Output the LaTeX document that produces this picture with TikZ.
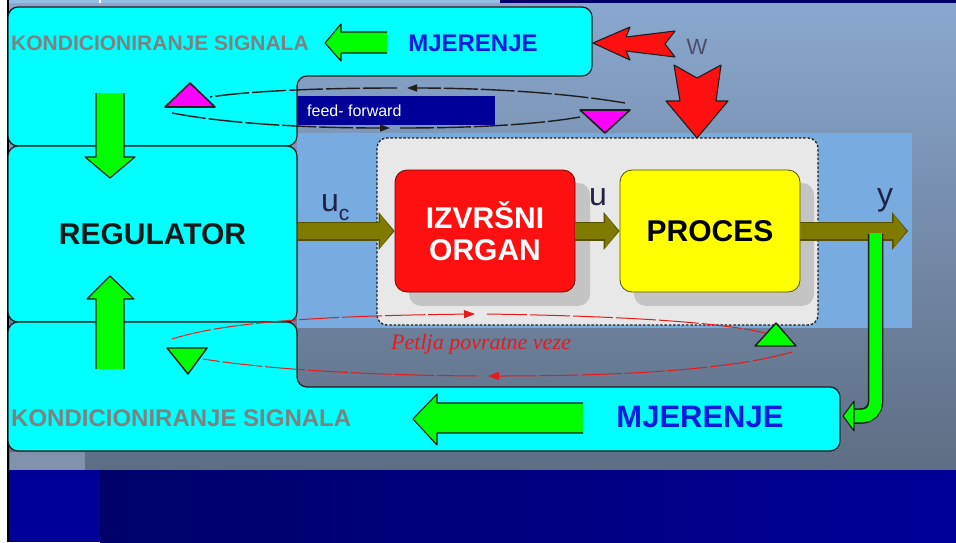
\documentclass[tikz,border=0pt]{standalone}
\usepackage{fontspec}
\setmainfont{Liberation Sans}
\newfontfamily\petljafont{Liberation Serif}
\usetikzlibrary{arrows.meta}
\definecolor{bgtop}{RGB}{138,168,206}
\definecolor{bgbot}{RGB}{94,110,132}
\definecolor{navyA}{RGB}{0,0,152}
\definecolor{navyB}{RGB}{0,0,104}
\definecolor{topstrip}{RGB}{150,190,228}
\definecolor{patchc}{RGB}{128,146,172}
\definecolor{lblue}{RGB}{120,172,224}
\definecolor{panelc}{RGB}{232,232,232}
\definecolor{shadowc}{RGB}{196,196,196}
\definecolor{oliveA}{RGB}{128,122,0}
\definecolor{oliveD}{RGB}{84,80,0}
\definecolor{cyanA}{RGB}{0,255,255}
\definecolor{greenA}{RGB}{0,255,0}
\definecolor{magA}{RGB}{255,0,255}
\definecolor{redA}{RGB}{255,16,16}
\definecolor{yellowA}{RGB}{255,255,0}
\definecolor{textblue}{RGB}{12,28,222}
\definecolor{textgray}{RGB}{128,128,128}
\definecolor{labelc}{RGB}{30,34,70}
\definecolor{ffbox}{RGB}{0,0,153}
\definecolor{edgec}{RGB}{30,30,30}
\definecolor{loopred}{RGB}{226,28,28}
\begin{document}
\begin{tikzpicture}[x=1pt,y=-1pt,
  cyanbox/.style={fill=cyanA, draw=edgec, line width=1.2pt, rounded corners=10pt},
  outl/.style={draw=edgec, line width=1.1pt, line join=round},
  oliveback/.style={line width=19pt, draw=oliveD, -{Triangle[length=16pt,width=37pt]}},
  olivefront/.style={line width=16pt, draw=oliveA, shorten >=1.5pt, -{Triangle[length=13pt,width=33pt]}},
  ffline/.style={draw=edgec, line width=1.4pt, dash pattern=on 34pt off 3pt},
  fbline/.style={draw=loopred, line width=1pt, dash pattern=on 40pt off 3pt},
  bigbold/.style={font=\bfseries\fontsize{30}{32}\selectfont},
  lbl/.style={text=labelc, inner sep=0pt}
]
\useasboundingbox (0,0) rectangle (956,542);
% background
\fill[white] (0,0) rectangle (956,542);
\fill[top color=bgtop, bottom color=bgbot] (8,0) rectangle (956,470);
\fill[topstrip] (8,0) rectangle (500,3);
\fill[white] (99,0) rectangle (101,3);
\fill[navyB] (500,0) rectangle (956,3);
\fill[navyA] (8,470) rectangle (100,542);
\fill[left color=navyB, right color=navyA] (100,470) rectangle (956,542);
\fill[patchc] (10,452) rectangle (85,470);
\draw[line width=1.5pt, black] (8,0) -- (8,542);
% light blue band and process panel
\fill[lblue] (297,133) rectangle (912,328);
\draw[fill=panelc, draw=edgec, line width=1.3pt, dash pattern=on 2.5pt off 1.8pt, rounded corners=10pt] (377,138) rectangle (818,325);
\fill[shadowc, rounded corners=12pt] (409,183) rectangle (590,306);
\fill[shadowc, rounded corners=12pt] (634,183) rectangle (814,306);
\node[draw=red!45!black, fill=redA, line width=0.8pt, rounded corners=12pt, minimum width=180pt, minimum height=122pt, text=white, bigbold, align=center, inner sep=0pt] (org) at (485,231) {IZVRŠNI\\ORGAN};
\node[draw=oliveD, fill=yellowA, line width=0.8pt, rounded corners=12pt, minimum width=180pt, minimum height=122pt, text=black, bigbold, inner sep=0pt] (proc) at (710,231) {PROCES};
% cyan blocks
\draw[cyanbox] (8,146) -- (8,7) -- (592,7) -- (592,76) -- (297,76) -- (297,146) -- cycle;
\node[cyanbox, minimum width=289pt, minimum height=176pt, inner sep=0pt, text=black!90, bigbold] (reg) at (152.5,234) {REGULATOR};
\draw[cyanbox] (8,322) -- (297,322) -- (297,387) -- (840,387) -- (840,451) -- (8,451) -- cycle;
\coordinate (measR) at (841,416);
\coordinate (yend) at (908,231);
\coordinate (ytap) at (875.5,234);
% olive signal arrows
\draw[oliveback] (reg.east |- org.west) -- (org.west);
\draw[olivefront] (reg.east |- org.west) -- (org.west);
\draw[oliveback] (org.east) -- (proc.west);
\draw[olivefront] (org.east) -- (proc.west);
\draw[oliveback] (proc.east) -- (yend);
\draw[olivefront] (proc.east) -- (yend);
% labels on signals
\node[lbl, anchor=base west, font=\fontsize{32}{32}\selectfont] (uc) at (321,211) {u\raisebox{-9pt}{\fontsize{21}{21}\selectfont c}};
\node[lbl, anchor=base west, font=\fontsize{32}{32}\selectfont] (ulab) at (589,205) {u};
\node[lbl, anchor=base west, font=\fontsize{32}{32}\selectfont] (ylab) at (877,205) {y};
\node[anchor=center, text=labelc!80!white, inner sep=0pt, font=\fontsize{22}{22}\selectfont] (wlab) at (697,47) {W};
% feedback green tube from y to MJERENJE
\draw[edgec, line width=15.5pt, rounded corners=14pt] (ytap) -- (875.5,416) -- ([xshift=13pt]measR);
\draw[greenA, line width=12.5pt, rounded corners=13pt] ([yshift=1pt]ytap) -- (875.5,416) -- ([xshift=13pt]measR);
\filldraw[fill=greenA, outl] ([xshift=2pt]measR) -- ++(11,-15) -- ++(0,30) -- cycle;
% green block arrows
\fill[greenA] (96,93) -- (124,93) -- (124,157) -- (135,157) -- (110,178) -- (85,157) -- (96,157) -- cycle;
\draw[outl] (96,93) -- (96,157) -- (85,157) -- (110,178) -- (135,157) -- (124,157) -- (124,93);
\fill[greenA] (96,369) -- (96,299) -- (87,299) -- (110,276) -- (134,299) -- (124,299) -- (124,369) -- cycle;
\draw[outl] (96,369) -- (96,299) -- (87,299) -- (110,276) -- (134,299) -- (124,299) -- (124,369);
\fill[greenA] (387,32) -- (341,32) -- (341,24) -- (325,43) -- (341,61) -- (341,53) -- (387,53) -- cycle;
\draw[outl] (387,32) -- (341,32) -- (341,24) -- (325,43) -- (341,61) -- (341,53) -- (387,53);
\fill[greenA] (583,403) -- (437,403) -- (437,394) -- (413,419) -- (437,445) -- (437,433) -- (583,433) -- cycle;
\draw[outl] (583,403) -- (437,403) -- (437,394) -- (413,419) -- (437,445) -- (437,433) -- (583,433);
% red disturbance arrows
\filldraw[fill=redA, outl] (593,43) -- (630,27) -- (626,37) -- (675,31) -- (665,44) -- (675,57) -- (626,51) -- (630,60) -- cycle;
\filldraw[fill=redA, outl] (674,65) -- (697,78) -- (721,65) -- (716,101) -- (728,101) -- (697,138) -- (666,101) -- (680,101) -- cycle;
% marker triangles
\filldraw[fill=magA, outl, line width=1.6pt] (165,107) -- (215,107) -- (190,83) -- cycle;
\filldraw[fill=magA, outl, line width=1.6pt] (580,110) -- (630,110) -- (605,133) -- cycle;
\filldraw[fill=greenA, outl, line width=1.4pt] (755,346) -- (796,346) -- (776,323) -- cycle;
\filldraw[fill=greenA, outl, line width=1.4pt] (167,348) -- (207,348) -- (188,374) -- cycle;
% texts in cyan blocks
\node[anchor=west, inner sep=0pt, text=textgray, font=\bfseries\fontsize{21}{21}\selectfont] (kondT) at (11,43) {KONDICIONIRANJE SIGNALA};
\node[anchor=center, inner sep=0pt, text=textblue, font=\bfseries\fontsize{24}{24}\selectfont] (mjerT) at (473,43) {MJERENJE};
\node[anchor=west, inner sep=0pt, text=textgray, font=\bfseries\fontsize{24}{24}\selectfont] (kondB) at (11,418) {KONDICIONIRANJE SIGNALA};
\node[anchor=center, inner sep=0pt, text=textblue, font=\bfseries\fontsize{31}{31}\selectfont] (mjerB) at (700,417) {MJERENJE};
% feed-forward label
\node[fill=ffbox, minimum width=198pt, minimum height=29pt, inner sep=0pt, anchor=north west] (ffrect) at (297,96) {};
\node[anchor=west, inner sep=0pt, text=white, font=\fontsize{16}{16}\selectfont] (fftext) at ([xshift=10pt]ffrect.west) {feed- forward};
% feed-forward loop
\coordinate (ffA) at (625,103);
\coordinate (ffB) at (407,88);
\coordinate (ffC) at (397,88);
\coordinate (ffD) at (210,97);
\coordinate (ffE) at (172,113);
\coordinate (ffF) at (390,128);
\coordinate (ffG) at (400,128);
\coordinate (ffH) at (580,117);
\draw[ffline, -{Triangle[length=10pt,width=7pt]}] (ffA) .. controls (560,92) and (480,88) .. (ffB);
\draw[ffline] (ffC) .. controls (320,88) and (250,91) .. (ffD);
\draw[ffline, -{Triangle[length=10pt,width=7pt]}] (ffE) .. controls (230,124) and (310,128) .. (ffF);
\draw[ffline] (ffG) .. controls (480,128) and (540,124) .. (ffH);
% feedback loop
\coordinate (fbA) at (172,339);
\coordinate (fbB) at (475,314);
\coordinate (fbC) at (487,314);
\coordinate (fbD) at (765,333);
\coordinate (fbE) at (792,352);
\coordinate (fbF) at (488,376);
\coordinate (fbG) at (477,376);
\coordinate (fbH) at (203,359);
\draw[fbline, -{Triangle[length=11pt,width=8pt]}] (fbA) .. controls (220,324) and (300,316) .. (fbB);
\draw[fbline] (fbC) .. controls (620,316) and (720,322) .. (fbD);
\draw[fbline, -{Triangle[length=11pt,width=8pt]}] (fbE) .. controls (730,370) and (620,376) .. (fbF);
\draw[fbline] (fbG) .. controls (350,375) and (260,368) .. (fbH);
\node[text=loopred, inner sep=0pt, font=\petljafont\itshape\fontsize{22}{22}\selectfont] (petlja) at (481,344) {Petlja povratne veze};
\end{tikzpicture}
\end{document}
